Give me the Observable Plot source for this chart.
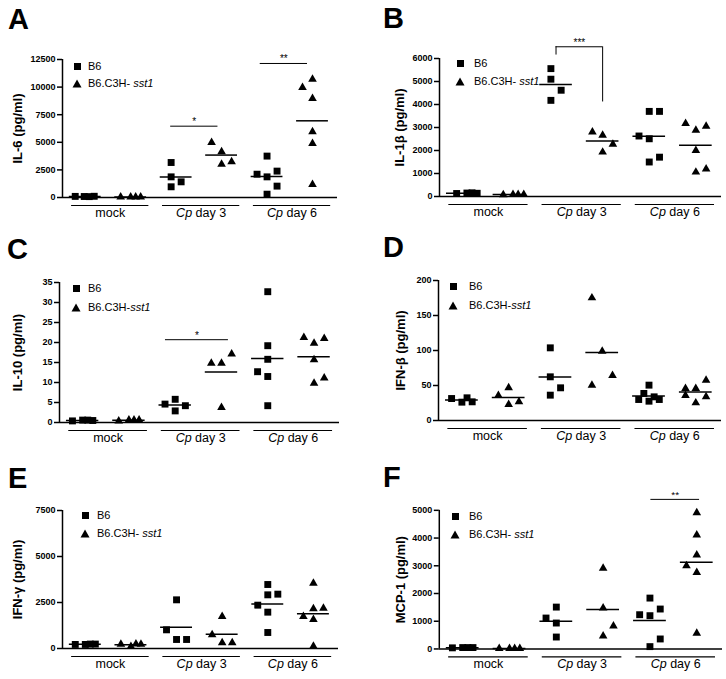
<!DOCTYPE html>
<html><head><meta charset="utf-8">
<script src="https://cdn.jsdelivr.net/npm/d3@7"></script>
<script src="https://cdn.jsdelivr.net/npm/@observablehq/plot@0.6"></script>
<style>
body{margin:0;background:#fff;font-family:"Liberation Sans",Arial,sans-serif;}
#fig{position:relative;width:726px;height:679px;overflow:hidden;background:#fff;}
.panel{position:absolute;}
.letter{position:absolute;font-weight:bold;font-size:29px;line-height:29px;z-index:2;}
.leg{position:absolute;font-size:11px;line-height:13px;white-space:nowrap;z-index:2;}
.sq{position:absolute;width:7px;height:7px;background:#000;z-index:2;}
.tri{position:absolute;z-index:2;}
g[aria-label="y-axis tick label"] text{font-weight:bold;}
</style></head><body><div id="fig"></div><script>
// ---------- data ----------
const GROUPS = ["mock", "Cp day 3", "Cp day 6"];
const STRAINS = ["B6", "B6.C3H-sst1"];

// values per group: [mock, Cp day 3, Cp day 6]; *_SLOT = horizontal scatter slot of each point
const IL6_B6 = [[100, 90, 80, 110], [3170, 1870, 1420, 970], [3750, 2110, 1870, 2390, 1030, 300]];
const IL6_B6_SLOT = [[-1, -0.1, 0.4, 0.9], [-0.5, -0.5, 0.5, -0.5], [0, -1, 0, 1, 1, 0]];
const IL6_SST1 = [[40, 40, 40, 40], [4980, 4140, 3230, 3020], [9970, 10720, 8970, 5950, 4890, 1180]];
const IL6_SST1_SLOT = [[-1, 0, 0.5, 1], [-1, 0, 1, 0], [-1, 0, 0, 0, 0, 0]];
const IL6_TICKS = [0, 2500, 5000, 7500, 10000, 12500];
const IL6_SIG = [{x1: 1.88, x2: 2.92, y: 6460, label: "*"}, {x1: 3.85, x2: 4.89, y: 12140, label: "**"}];

const IL1B_B6 = [[130, 150, 160, 140], [5560, 5100, 4620, 4180], [2630, 3700, 3700, 2510, 1500, 1710]];
const IL1B_B6_SLOT = [[-0.6, 0.4, 0.9, 1.4], [-0.5, -0.5, 0.5, -0.5], [-1, 0, 1, 0, 0, 1]];
const IL1B_SST1 = [[80, 90, 90, 90], [2800, 2660, 2270, 1930], [3170, 2880, 3050, 2000, 1060, 1200]];
const IL1B_SST1_SLOT = [[-0.6, 0.35, 0.85, 1.4], [-1, 0, 1, 0], [-1, 0, 1, 0, 0, 1]];
const IL1B_TICKS = [0, 1000, 2000, 3000, 4000, 5000, 6000];
const IL1B_SIG = [{x1: 2, x2: 3, y: 6510, leg1: 6150, leg2: 4110, label: "***"}];

const IL10_B6 = [[0.4, 0.6, 0.6, 0.5], [4.6, 5.8, 4.2, 2.9], [32.7, 19.2, 15.8, 12.7, 11.5, 4.2]];
const IL10_B6_SLOT = [[-1, 0, 0.5, 1], [-1, 0, 1, 0], [0, 0, 0, -1, 0, 0]];
const IL10_SST1 = [[0.4, 0.6, 0.6, 0.6], [14.8, 14.8, 17.1, 3.75], [21.25, 19.8, 21.0, 15.7, 11.1, 9.8]];
const IL10_SST1_SLOT = [[-1, 0, 0.5, 1], [-1, 0, 1, 0], [-1, 0, 1, 0, 1, 0]];
const IL10_TICKS = [0, 5, 10, 15, 20, 25, 30, 35];
const IL10_SIG = [{x1: 1.79, x2: 3.15, y: 20.7, label: "*"}];

const IFNB_B6 = [[31.4, 26.2, 32.4, 26.7], [103.8, 62.4, 46.7, 36.2], [50.5, 38.6, 33.8, 30, 30, 27.6]];
const IFNB_B6_SLOT = [[-1, 0, 0.5, 1], [-0.5, -0.5, 0.5, -0.5], [0, -0.5, 0.5, -1, 1, 0]];
const IFNB_SST1 = [[35.7, 46.7, 26.7, 22.9], [175.2, 99, 64.3, 50.5], [45.7, 45.7, 57.6, 35.7, 33.8, 25.2]];
const IFNB_SST1_SLOT = [[-1, 0, 1, 0], [-1, 0, 1, -1], [-1, 0, 1, -1, 1, 0]];
const IFNB_TICKS = [0, 50, 100, 150, 200];
const IFNB_SIG = [];

const IFNG_B6 = [[220, 220, 240, 240], [2645, 1015, 490, 490], [3478, 2917, 2953, 2355, 1975, 870]];
const IFNG_B6_SLOT = [[-1, 0, 0.5, 1], [0, -1, 0, 1], [0, 0, 1, -1, 0, 0]];
const IFNG_SST1 = [[230, 110, 240, 230], [1740, 743, 308, 308], [3550, 2156, 2192, 1740, 1576, 127]];
const IFNG_SST1_SLOT = [[-1, 0, 0.5, 1], [0, -1, 0, 1], [0, 0, 1, -1, 0, 0]];
const IFNG_TICKS = [0, 2500, 5000, 7500];
const IFNG_SIG = [];

const MCP1_B6 = [[40, 50, 50, 50], [1510, 1115, 935, 430], [1835, 1235, 1200, 1440, 360, 84]];
const MCP1_B6_SLOT = [[-1, 0, 0.5, 1], [0, -1, 0, 0], [0, -1, 0, 1, 1, 0]];
const MCP1_SST1 = [[15, 15, 15, 15], [2910, 1475, 830, 470], [4915, 4110, 3390, 3000, 2760, 565]];
const MCP1_SST1_SLOT = [[-1, 0, 0.5, 1], [0, 0, 1, 0], [0, 0, 0, -1, 0, 0]];
const MCP1_TICKS = [0, 1000, 2000, 3000, 4000, 5000];
const MCP1_SIG = [{x1: 4.02, x2: 5.06, y: 5395, label: "**"}];

// ---------- layout ----------
const X_DOMAIN = [-0.5, 5.55];
const SLOT = 0.22;
const PANELS = [
  {id: "A", ylabel: "IL-6 (pg/ml)", b6: IL6_B6, b6s: IL6_B6_SLOT, s1: IL6_SST1, s1s: IL6_SST1_SLOT, ticks: IL6_TICKS, sig: IL6_SIG,
   L: {left: 0, top: 0, ax: 62, ex: 337, yt: 59, y0: 197, lab: 17, leg: [77, 66, 83, 88], letter: [8, 29], spaced: true}},
  {id: "B", ylabel: "IL-1β (pg/ml)", b6: IL1B_B6, b6s: IL1B_B6_SLOT, s1: IL1B_SST1, s1s: IL1B_SST1_SLOT, ticks: IL1B_TICKS, sig: IL1B_SIG,
   L: {left: 363, top: 0, ax: 439, ex: 721, yt: 58, y0: 196, lab: 399, leg: [460, 63, 81, 474], letter: [383, 28], spaced: true}},
  {id: "C", ylabel: "IL-10 (pg/ml)", b6: IL10_B6, b6s: IL10_B6_SLOT, s1: IL10_SST1, s1s: IL10_SST1_SLOT, ticks: IL10_TICKS, sig: IL10_SIG,
   L: {left: 0, top: 225, ax: 59, ex: 339, yt: 282, y0: 422, lab: 17, leg: [76, 288, 307, 88], letter: [7, 259], spaced: false}},
  {id: "D", ylabel: "IFN-β (pg/ml)", b6: IFNB_B6, b6s: IFNB_B6_SLOT, s1: IFNB_SST1, s1s: IFNB_SST1_SLOT, ticks: IFNB_TICKS, sig: IFNB_SIG,
   L: {left: 363, top: 225, ax: 438, ex: 721, yt: 280, y0: 420, lab: 400, leg: [453, 286, 305, 469], letter: [383, 257], spaced: false}},
  {id: "E", ylabel: "IFN-γ (pg/ml)", b6: IFNG_B6, b6s: IFNG_B6_SLOT, s1: IFNG_SST1, s1s: IFNG_SST1_SLOT, ticks: IFNG_TICKS, sig: IFNG_SIG,
   L: {left: 0, top: 450, ax: 62, ex: 338, yt: 510, y0: 648, lab: 17, leg: [85, 515, 533, 97], letter: [8, 488], spaced: true}},
  {id: "F", ylabel: "MCP-1 (pg/ml)", b6: MCP1_B6, b6s: MCP1_B6_SLOT, s1: MCP1_SST1, s1s: MCP1_SST1_SLOT, ticks: MCP1_TICKS, sig: MCP1_SIG,
   L: {left: 363, top: 450, ax: 439, ex: 723, yt: 510, y0: 649, lab: 400, leg: [455, 516, 534, 469], letter: [383, 487], spaced: true}}
];

const fig = document.getElementById("fig");
const FONT = "Liberation Sans, Arial, sans-serif";

for (const p of PANELS) {
  const L = p.L;
  const rows = [], means = [];
  [[p.b6, p.b6s, 0], [p.s1, p.s1s, 1]].forEach(([vals, slots, s]) => {
    vals.forEach((arr, g) => {
      const col = 2 * g + s;
      arr.forEach((v, i) => rows.push({strain: STRAINS[s], col, x: col + slots[g][i] * SLOT, y: v}));
      means.push({col, y: d3.mean(arr)});
    });
  });
  const yMax = p.ticks[p.ticks.length - 1];
  const marginTop = L.yt - L.top, marginBottom = 28;
  const svg = Plot.plot({
    width: L.ex - L.left + 4,
    height: L.y0 - L.top + marginBottom,
    marginLeft: L.ax - L.left, marginRight: 4, marginTop, marginBottom,
    style: {fontFamily: FONT, background: "transparent", overflow: "visible", color: "black"},
    x: {domain: X_DOMAIN, axis: null},
    y: {domain: [0, yMax], axis: null},
    marks: [
      Plot.axisY({ticks: p.ticks, tickSize: 5, tickPadding: 2, tickFormat: d3.format("d"), fontSize: 9, fontWeight: "bold", label: null, strokeWidth: 1.5}),
      Plot.text([p.ylabel], {frameAnchor: "left", rotate: -90, dx: -(L.ax - L.lab), text: d => d, fontSize: 13, fontWeight: "bold", lineAnchor: "middle", textAnchor: "middle"}),
      Plot.ruleX([X_DOMAIN[0]], {strokeWidth: 1.5}),
      Plot.ruleY([0], {strokeWidth: 1.5}),
      Plot.ruleY(GROUPS, {x1: (d, i) => 2 * i + 0.55 - 0.85, x2: (d, i) => 2 * i + 0.55 + 0.85, y: () => 0, dy: 8, strokeWidth: 1.2}),
      Plot.text(GROUPS, {x: (d, i) => 2 * i + 0.55, y: () => 0, text: d => d, dy: 15.5, fontSize: 12.5, lineAnchor: "middle"}),
      Plot.dot(rows.filter(r => r.strain === STRAINS[0]), {x: "x", y: "y", symbol: "square", r: 3.9, fill: "black", stroke: "none"}),
      Plot.dot(rows.filter(r => r.strain === STRAINS[1]), {x: "x", y: "y", symbol: "triangle", r: 3.2, fill: "black", stroke: "none"}),
      Plot.ruleY(means, {x1: d => d.col - 0.35, x2: d => d.col + 0.35, y: "y", strokeWidth: 1.5}),
      Plot.ruleY(p.sig, {x1: "x1", x2: "x2", y: "y", strokeWidth: 1}),
      Plot.ruleX(p.sig.filter(d => d.leg1 != null), {x: "x1", y1: "leg1", y2: "y", strokeWidth: 1}),
      Plot.ruleX(p.sig.filter(d => d.leg2 != null), {x: "x2", y1: "leg2", y2: "y", strokeWidth: 1}),
      Plot.text(p.sig, {x: d => (d.x1 + d.x2) / 2, y: "y", text: "label", lineAnchor: "bottom", dy: -1, fontSize: 10})
    ]
  });
  d3.select(svg).selectAll("text").each(function () {
    const t = this.textContent;
    if (/^Cp /.test(t)) this.innerHTML = '<tspan font-style="italic">Cp</tspan>' + t.slice(2);
  });
  const div = document.createElement("div");
  div.className = "panel";
  div.style.left = L.left + "px";
  div.style.top = L.top + "px";
  div.appendChild(svg);
  fig.appendChild(div);

  // panel letter
  const let_ = document.createElement("div");
  let_.className = "letter";
  let_.textContent = p.id;
  let_.style.left = L.letter[0] + "px";
  let_.style.top = (L.letter[1] - 24.5) + "px";
  fig.appendChild(let_);

  // legend
  const [sx, sy1, sy2, tx] = L.leg;
  const sq = document.createElement("div");
  sq.className = "sq";
  sq.style.left = (sx - 3.5) + "px"; sq.style.top = (sy1 - 3.5) + "px";
  fig.appendChild(sq);
  const tri = document.createElementNS("http://www.w3.org/2000/svg", "svg");
  tri.setAttribute("class", "tri");
  tri.setAttribute("width", 10); tri.setAttribute("height", 9);
  tri.style.left = (sx - 5) + "px"; tri.style.top = (sy2 - 4.5) + "px";
  tri.innerHTML = '<polygon points="5,0.5 9.5,8.5 0.5,8.5" fill="#000"/>';
  fig.appendChild(tri);
  const t1 = document.createElement("div");
  t1.className = "leg"; t1.textContent = STRAINS[0];
  t1.style.left = tx + "px"; t1.style.top = (sy1 - 6.5) + "px";
  fig.appendChild(t1);
  const t2 = document.createElement("div");
  t2.className = "leg";
  const parts = STRAINS[1].split("-");
  t2.innerHTML = parts[0] + "-" + (L.spaced ? "&#160;" : "") + "<i>" + parts[1] + "</i>";
  t2.style.left = tx + "px"; t2.style.top = (sy2 - 6.5) + "px";
  fig.appendChild(t2);
}
</script></body></html>
